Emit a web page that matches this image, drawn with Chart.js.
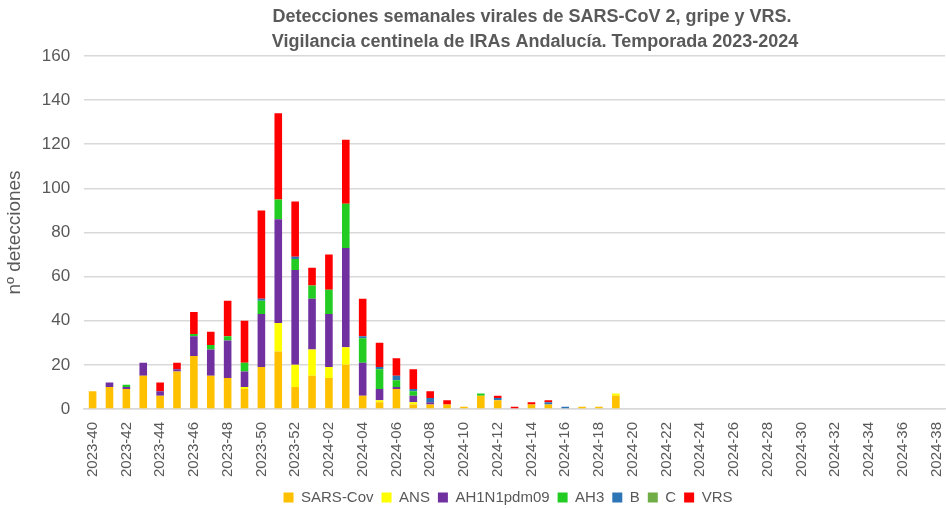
<!DOCTYPE html>
<html>
<head>
<meta charset="utf-8">
<script src="https://cdn.jsdelivr.net/npm/chart.js@4.4.1/dist/chart.umd.min.js"></script>
<style>
  html, body { margin: 0; padding: 0; background: #fff; }
  #wrap { width: 946px; height: 508px; }
</style>
</head>
<body>
<div id="wrap"><canvas id="weekChart" width="946" height="508"></canvas></div>
<script>
// weeks 2023-40 .. 2024-38
var weeks = [];
for (var w = 40; w <= 52; w++) weeks.push('2023-' + w);
for (var w2 = 1; w2 <= 38; w2++) weeks.push('2024-' + (w2 < 10 ? '0' + w2 : '' + w2));

var sarsCov = [8,10,9,15,6,17,24,15,14,9,19,26,10,15,14,20,6,3,9,2,2,2,1,6,4,0,2,2,0,1,1,6,0,0,0,0,0,0,0,0,0,0,0,0,0,0,0,0,0,0,0];
var ans     = [0,0,0,0,0,0,0,0,0,1,0,13,10,12,5,8,0,1,0,1,0,0,0,0,0,0,0,0,0,0,0,1,0,0,0,0,0,0,0,0,0,0,0,0,0,0,0,0,0,0,0];
var ah1n1   = [0,2,1,6,2,1,9,12,17,7,24,47,43,23,24,45,15,5,1,3,1,0,0,0,0,0,0,0,0,0,0,0,0,0,0,0,0,0,0,0,0,0,0,0,0,0,0,0,0,0,0];
var ah3     = [0,0,1,0,0,0,1,2,2,4,6,9,5,6,11,20,11,9,3,2,0,0,0,1,0,0,0,0,0,0,0,0,0,0,0,0,0,0,0,0,0,0,0,0,0,0,0,0,0,0,0];
var gripeB  = [0,0,0,0,0,0,0,0,0,0,1,0,1,0,0,0,1,1,2,1,2,0,0,0,1,0,0,1,1,0,0,0,0,0,0,0,0,0,0,0,0,0,0,0,0,0,0,0,0,0,0];
var gripeC  = [0,0,0,0,0,0,0,0,0,0,0,0,0,0,0,0,0,0,0,0,0,0,0,0,0,0,0,0,0,0,0,0,0,0,0,0,0,0,0,0,0,0,0,0,0,0,0,0,0,0,0];
var vrs     = [0,0,0,0,4,3,10,6,16,19,40,39,25,8,16,29,17,11,8,9,3,2,0,0,1,1,1,1,0,0,0,0,0,0,0,0,0,0,0,0,0,0,0,0,0,0,0,0,0,0,0];

var titleLines = ['Detecciones semanales virales de SARS-CoV 2, gripe y VRS.',
                  'Vigilancia centinela de IRAs Andalucía. Temporada 2023-2024'];

var grey = '#595959';
var fontFam = '"Liberation Sans", Arial, sans-serif';

function ds(label, data, color) {
    return {
        label: label,
        data: data,
        backgroundColor: color,
        borderWidth: 0,
        barPercentage: 0.45,
        categoryPercentage: 1.0
    };
}

// title drawn by hand so it can sit over the plot like in Excel
var titlePlugin = {
    id: 'excelTitle',
    afterLayout: function(chart) {
        // Excel legend sits a bit right of the canvas centre
        chart.legend.left += 34;
        chart.legend.right += 34;
    },
    afterDraw: function(chart) {
        var c = chart.ctx;
        c.save();
        c.fillStyle = grey;
        c.font = 'bold 18px ' + fontFam;
        c.textAlign = 'center';
        c.textBaseline = 'middle';
        c.fillText(titleLines[0], 532, 17);
        c.fillText(titleLines[1], 535, 42);
        c.restore();
    }
};

var ctx = document.getElementById('weekChart').getContext('2d');
var chart = new Chart(ctx, {
    type: 'bar',
    data: {
        labels: weeks,
        datasets: [
            ds('SARS-Cov', sarsCov, '#FFC000'),
            ds('ANS', ans, '#FFFF00'),
            ds('AH1N1pdm09', ah1n1, '#7030A0'),
            ds('AH3', ah3, '#22CC22'),
            ds('B', gripeB, '#2E75B6'),
            ds('C', gripeC, '#70AD47'),
            ds('VRS', vrs, '#FF0000')
        ]
    },
    options: {
        responsive: false,
        animation: false,
        layout: { padding: { top: 56, right: 1, left: 3, bottom: -7 } },
        scales: {
            x: {
                stacked: true,
                grid: { display: false },
                border: { color: '#d9d9d9', width: 1.5 },
                afterFit: function(scale) { scale.paddingRight = 0; },
                ticks: {
                    autoSkip: false,
                    minRotation: 90,
                    maxRotation: 90,
                    color: grey,
                    font: { family: fontFam, size: 15 },
                    padding: 5,
                    callback: function(value, index) {
                        return index % 2 === 0 ? weeks[index] : '';
                    }
                }
            },
            y: {
                stacked: true,
                min: 0,
                max: 160,
                grid: { color: '#d9d9d9', lineWidth: 1.5, drawTicks: false },
                border: { display: false },
                ticks: {
                    stepSize: 20,
                    color: grey,
                    padding: 14,
                    font: { family: fontFam, size: 17 }
                },
                title: {
                    display: true,
                    text: 'nº detecciones',
                    color: grey,
                    font: { family: fontFam, size: 19 },
                    padding: { top: 0, bottom: 2 }
                }
            }
        },
        plugins: {
            title: { display: false },
            tooltip: { enabled: false },
            legend: {
                position: 'bottom',
                labels: {
                    boxWidth: 10,
                    boxHeight: 10,
                    padding: 8,
                    color: grey,
                    font: { family: fontFam, size: 15 }
                }
            }
        }
    },
    plugins: [titlePlugin]
});
</script>
</body>
</html>
